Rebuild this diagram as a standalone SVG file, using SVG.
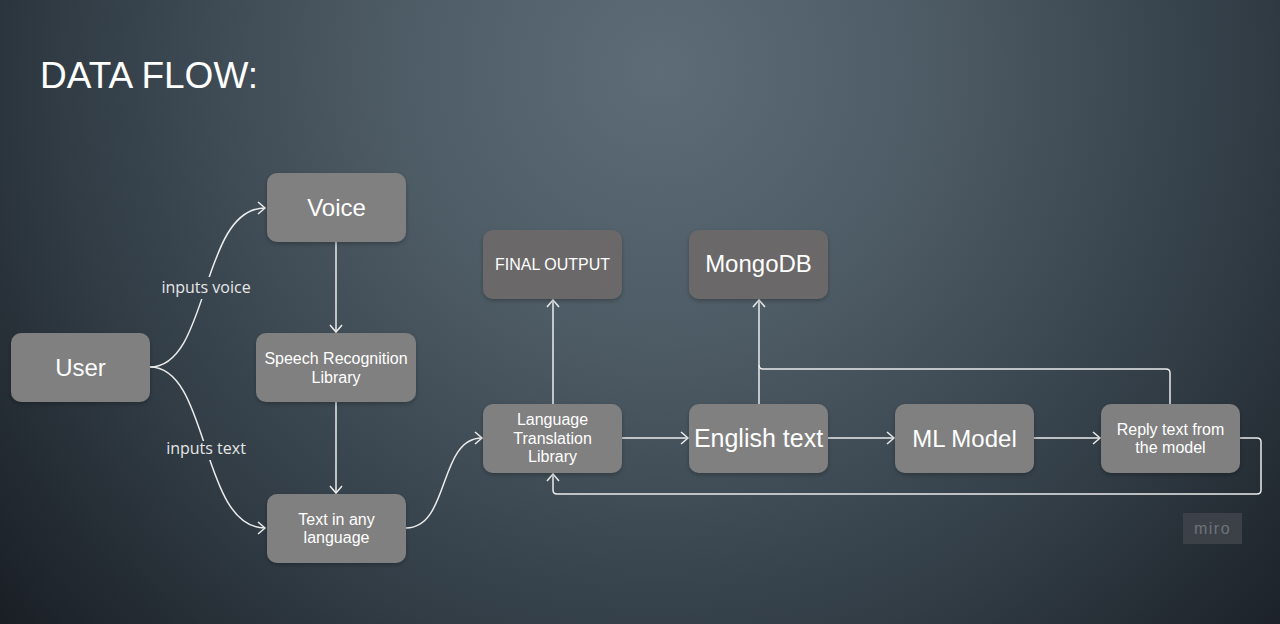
<svg xmlns="http://www.w3.org/2000/svg" width="1280" height="624" viewBox="0 0 1280 624">
<defs>
  <radialGradient id="bg" gradientUnits="userSpaceOnUse" cx="660" cy="70" r="920">
    <stop offset="0" stop-color="#5d6c77"/>
    <stop offset="0.3" stop-color="#4d5b65"/>
    <stop offset="0.65" stop-color="#313c45"/>
    <stop offset="1" stop-color="#14181d"/>
  </radialGradient>
  <marker id="arr" markerUnits="userSpaceOnUse" markerWidth="12" markerHeight="14" refX="9" refY="7" orient="auto">
    <path d="M2,1 L9,7 L2,13" fill="none" stroke="#ececec" stroke-width="1.5"/>
  </marker>
  <filter id="sh" x="-10%" y="-10%" width="120%" height="130%">
    <feDropShadow dx="0" dy="2" stdDeviation="2" flood-color="#000" flood-opacity="0.25"/>
  </filter>
</defs>
<style>
  .n { fill: #808080; filter: url(#sh); }
  .d { fill: #6b6868; filter: url(#sh); }
  .t { font-family: "Liberation Sans", Arial, sans-serif; fill: #ffffff; text-anchor: middle; }
  .big { font-size: 24px; }
  .sm { font-size: 16px; }
  .c { fill: none; stroke: #ececec; stroke-width: 1.5; }
  .lbl { font-family: "Open Sans", sans-serif; font-size: 16px; fill: #e6e6e6; text-anchor: middle; }
</style>
<rect x="0" y="0" width="1280" height="624" fill="url(#bg)"/>
<text x="40" y="88" font-family="'Liberation Sans', Arial, sans-serif" font-size="37" fill="#ffffff">DATA FLOW:</text>

<g id="connectors">
  <path class="c" d="M150,367 C210,367 200,208 265,208" marker-end="url(#arr)"/>
  <path class="c" d="M150,367 C210,367 200,528 265,528" marker-end="url(#arr)"/>
  <path class="c" d="M336,242 V332" marker-end="url(#arr)"/>
  <path class="c" d="M336,402 V493" marker-end="url(#arr)"/>
  <path class="c" d="M406,528 C450,528 438,438 482,438" marker-end="url(#arr)"/>
  <path class="c" d="M553,404 V300" marker-end="url(#arr)"/>
  <path class="c" d="M622,438 H688" marker-end="url(#arr)"/>
  <path class="c" d="M759,404 V300" marker-end="url(#arr)"/>
  <path class="c" d="M1170,404 V373 Q1170,369 1166,369 H763 Q759,369 759,365"/>
  <path class="c" d="M828,438 H894" marker-end="url(#arr)"/>
  <path class="c" d="M1034,438 H1100" marker-end="url(#arr)"/>
  <path class="c" d="M1240,438 H1257 Q1261,438 1261,442 V490 Q1261,494 1257,494 H557 Q553,494 553,490 V474" marker-end="url(#arr)"/>
  <rect x="162" y="277" width="88" height="22" fill="url(#bg)"/>
  <text class="lbl" x="206" y="293">inputs voice</text>
  <rect x="165" y="441" width="82" height="19" fill="url(#bg)"/>
  <text class="lbl" x="206" y="454">inputs text</text>
</g>

<g id="user"><rect class="n" x="11" y="333" width="139" height="69" rx="10"/><text class="t big" x="80.5" y="376">User</text></g>
<g id="voice"><rect class="n" x="267" y="173" width="139" height="69" rx="10"/><text class="t big" x="336.5" y="216">Voice</text></g>
<g id="speech"><rect class="n" x="256" y="333" width="160" height="69" rx="10"/><text class="t sm" x="336" y="364">Speech Recognition</text><text class="t sm" x="336" y="383">Library</text></g>
<g id="textany"><rect class="n" x="267" y="494" width="139" height="69" rx="10"/><text class="t sm" x="336.5" y="525">Text in any</text><text class="t sm" x="336.5" y="543">language</text></g>
<g id="final"><rect class="d" x="483" y="230" width="139" height="69" rx="10"/><text class="t sm" x="552.5" y="270">FINAL OUTPUT</text></g>
<g id="mongo"><rect class="d" x="689" y="230" width="139" height="69" rx="10"/><text class="t big" x="758.5" y="272">MongoDB</text></g>
<g id="lang"><rect class="n" x="483" y="404" width="139" height="69" rx="10"/><text class="t sm" x="552.5" y="425">Language</text><text class="t sm" x="552.5" y="443.5">Translation</text><text class="t sm" x="552.5" y="462">Library</text></g>
<g id="english"><rect class="n" x="689" y="404" width="139" height="69" rx="10"/><text class="t" font-size="25" x="758.5" y="447">English text</text></g>
<g id="ml"><rect class="n" x="895" y="404" width="139" height="69" rx="10"/><text class="t big" x="964.5" y="447">ML Model</text></g>
<g id="reply"><rect class="n" x="1101" y="404" width="139" height="69" rx="10"/><text class="t sm" x="1170.5" y="435">Reply text from</text><text class="t sm" x="1170.5" y="453">the model</text></g>

<g id="miro"><rect x="1183" y="513" width="59" height="31" fill="#3c4148"/><text x="1212.5" y="534" font-family="'Liberation Sans', Arial, sans-serif" font-size="16" letter-spacing="1.5" fill="#6e737a" text-anchor="middle">miro</text></g>
</svg>
